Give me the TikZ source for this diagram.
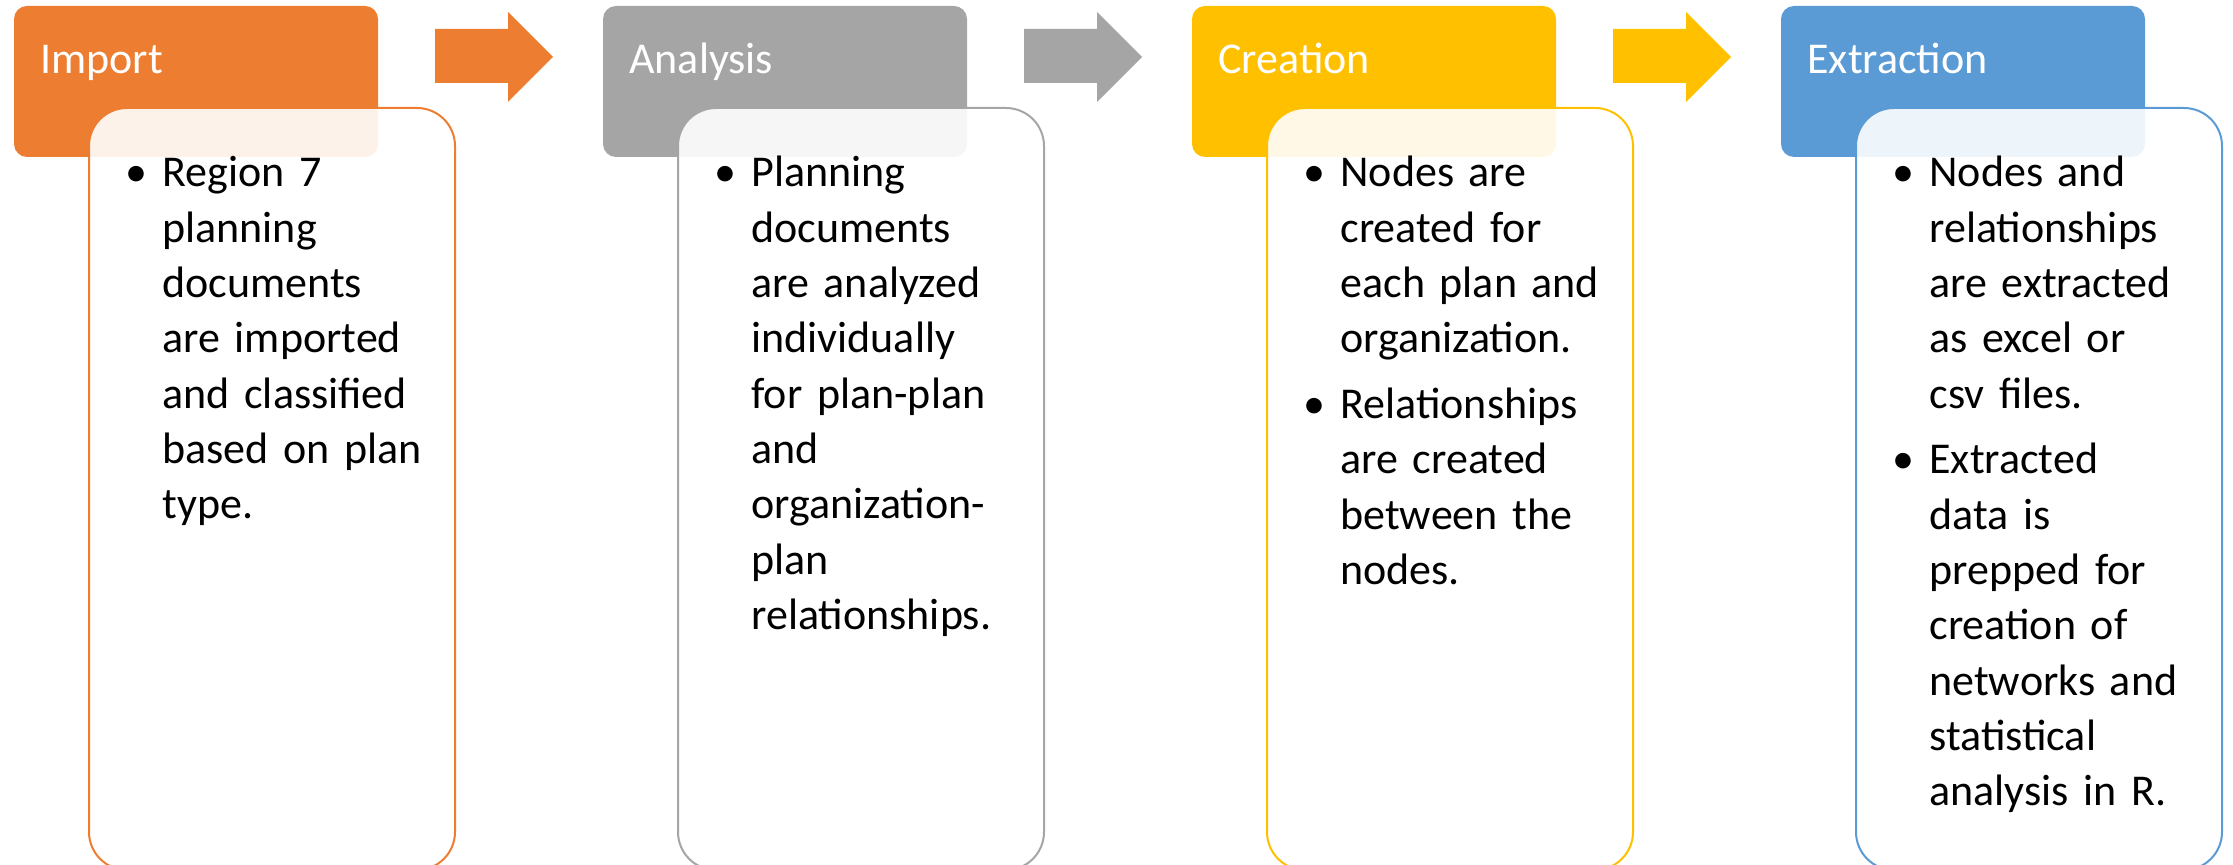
\documentclass[tikz,border=0pt]{standalone}
\usepackage{fontspec}
\setmainfont{Carlito}
\definecolor{impcol}{HTML}{ED7D31}
\definecolor{anacol}{HTML}{A5A5A5}
\definecolor{crecol}{HTML}{FFC000}
\definecolor{extcol}{HTML}{5B9BD5}
\tikzset{
  head/.style={rounded corners=6.5pt},
  body/.style={rounded corners=19pt, fill=white, fill opacity=0.9, line width=1pt},
  title/.style={anchor=base west, inner sep=0pt, text=white, font=\fontsize{22}{27.6}\selectfont},
  itemtext/.style={anchor=base west, inner sep=0pt, text width=150pt, align=left, font=\fontsize{22}{27.65}\selectfont},
  bul/.style={anchor=base, inner sep=0pt, font=\fontsize{22}{27.65}\selectfont}
}
\begin{document}
\begin{tikzpicture}[x=0.5pt,y=-0.5pt]
      \def\bodybot{870}
      \useasboundingbox (0,0) rectangle (2233,865);

      % Import
      \fill[impcol, head] (14,6) rectangle (378,157);
      \draw[impcol, body] (89,108) rectangle (455,\bodybot);
      \node[title] (imptitle) at (40,74) {Import};
      \node[bul] (impbul) at (136,187) {\textbullet};
      \node[itemtext] (impitem) at (162,187) {Region 7\\planning\\documents\\are imported\\and classified\\based on plan\\type.};
      \fill[impcol] (435,29) -- (508,29) -- (508,12) -- (553,57) -- (508,102) -- (508,83) -- (435,83) -- cycle;

      % Analysis
      \fill[anacol, head] (603,6) rectangle (967,157);
      \draw[anacol, body] (678,108) rectangle (1044,\bodybot);
      \node[title] (anatitle) at (629,74) {Analysis};
      \node[bul] (anabul) at (725,187) {\textbullet};
      \node[itemtext] (anaitem) at (751,187) {Planning\\documents\\are analyzed\\individually\\for plan-plan\\and\\organization-\\plan\\relationships.};
      \fill[anacol] (1024,29) -- (1097,29) -- (1097,12) -- (1142,57) -- (1097,102) -- (1097,83) -- (1024,83) -- cycle;

      % Creation
      \fill[crecol, head] (1192,6) rectangle (1556,157);
      \draw[crecol, body] (1267,108) rectangle (1633,\bodybot);
      \node[title] (cretitle) at (1218,74) {Creation};
      \node[bul] (crebulA) at (1314,187) {\textbullet};
      \node[itemtext] (creitemA) at (1340,187) {Nodes are\\created for\\each plan and\\organization.};
      \node[bul] (crebulB) at (1314,418.7) {\textbullet};
      \node[itemtext] (creitemB) at (1340,418.7) {Relationships\\are created\\between the\\nodes.};
      \fill[crecol] (1613,29) -- (1686,29) -- (1686,12) -- (1731,57) -- (1686,102) -- (1686,83) -- (1613,83) -- cycle;

      % Extraction
      \fill[extcol, head] (1781,6) rectangle (2145,157);
      \draw[extcol, body] (1856,108) rectangle (2222,\bodybot);
      \node[title] (exttitle) at (1807,74) {Extraction};
      \node[bul] (extbulA) at (1903,187) {\textbullet};
      \node[itemtext] (extitemA) at (1929,187) {Nodes and\\relationships\\are extracted\\as excel or\\csv files.};
      \node[bul] (extbulB) at (1903,474) {\textbullet};
      \node[itemtext] (extitemB) at (1929,474) {Extracted\\data is\\prepped for\\creation of\\networks and\\statistical\\analysis in R.};

    \end{tikzpicture}
\end{document}
